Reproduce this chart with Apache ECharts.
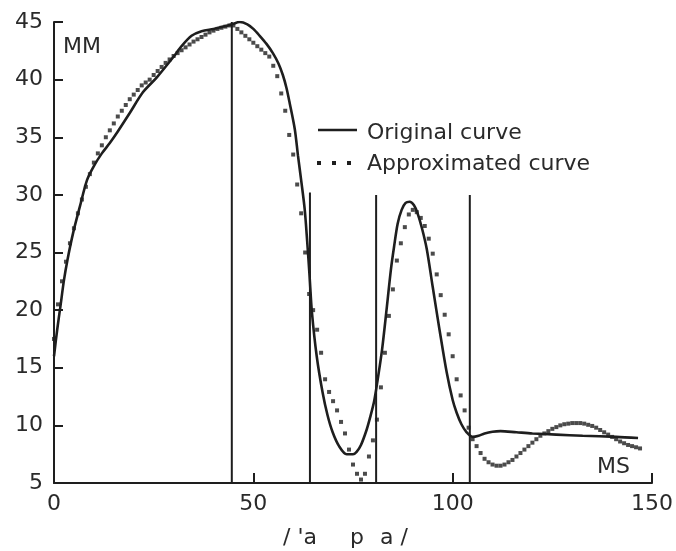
<!DOCTYPE html>
<html>
<head>
<meta charset="utf-8">
<script src="https://cdn.jsdelivr.net/npm/echarts@6/dist/echarts.min.js"></script>
<style>
  html, body { margin: 0; padding: 0; background: #fff; }
  #chart { width: 676px; height: 551px; }
</style>
</head>
<body>
<div id="chart"></div>
<script>
// original curve (solid)
const origX = [0, 0.8, 1.6, 2.5, 3.4, 4.8, 6.5, 8.3, 10, 12, 14, 16, 19, 22.3, 25.8, 29.8, 32, 34.5, 37, 40,
  42.5, 44.6, 46.6, 48.5, 50, 51.6, 53.3, 54.9, 56.3, 57.4, 58.3, 59.1, 60.4, 61.2, 62.1, 62.9, 63.5, 64.1, 64.7, 65.9,
  67.4, 68.6, 69.9, 71.5, 73.4, 75, 75.9, 77, 78.4, 79.3, 80.3, 81.2, 82.3, 83.5, 84.5, 85.3, 86.2, 87.2, 88.2, 89.2,
  90.3, 91.2, 92.3, 93.5, 95, 96.7, 98.5, 100, 101, 102.2, 103.5, 105, 106.5, 108, 110, 112, 116, 120, 126, 132.6,
  141, 146.5];
const origY = [16, 18.3, 20.3, 22.6, 24.4, 26.7, 29.0, 31.3, 32.5, 33.6, 34.5, 35.5, 37.1, 38.9, 40.2, 41.9, 42.9, 43.8, 44.2, 44.4,
  44.6, 44.8, 45.0, 44.8, 44.4, 43.8, 43.1, 42.3, 41.4, 40.4, 39.3, 38.0, 35.7, 33.4, 31.0, 28.7, 26.0, 23.0, 19.8, 16.0,
  12.8, 10.9, 9.4, 8.2, 7.5, 7.5, 7.7, 8.3, 9.6, 10.7, 12.1, 14.0, 16.6, 20.3, 23.5, 25.5, 27.5, 28.7, 29.3, 29.4,
  29.1, 28.4, 27.1, 25.3, 22.0, 18.3, 14.6, 12.2, 11.1, 10.1, 9.4, 9.0, 9.1, 9.3, 9.45, 9.5, 9.4, 9.3, 9.2, 9.1,
  9.0, 8.9];

// approximated curve: one dot per unit of x, starting at x = 0
const approxY = [
  17.5, 20.5, 22.5, 24.2, 25.8, 27.1, 28.4, 29.6, 30.7, 31.8,
  32.8, 33.6, 34.3, 35.0, 35.6, 36.2, 36.8, 37.3, 37.8, 38.3,
  38.7, 39.1, 39.5, 39.75, 40.0, 40.4, 40.75, 41.1, 41.45, 41.75,
  42.05, 42.3, 42.55, 42.8, 43.05, 43.3, 43.5, 43.7, 43.9, 44.1,
  44.25, 44.4, 44.5, 44.6, 44.7, 44.7, 44.4, 44.1, 43.8, 43.5,
  43.2, 42.9, 42.6, 42.3, 42.0, 41.2, 40.3, 38.8, 37.3, 35.2,
  33.5, 30.9, 28.4, 25.0, 21.4, 20.0, 18.3, 16.3, 14.0, 12.9,
  12.1, 11.3, 10.3, 9.3, 7.9, 6.6, 5.8, 5.3, 5.8, 7.3,
  8.7, 10.5, 13.3, 16.3, 19.5, 21.8, 24.3, 25.8, 27.2, 28.3,
  28.7, 28.5, 28.0, 27.3, 26.2, 24.9, 23.1, 21.3, 19.6, 17.9,
  16.0, 14.0, 12.6, 11.3, 9.8, 8.8, 8.2, 7.6, 7.1, 6.8,
  6.6, 6.5, 6.5, 6.6, 6.8, 7.0, 7.3, 7.6, 7.9, 8.2,
  8.5, 8.8, 9.1, 9.3, 9.5, 9.7, 9.85, 10.0, 10.1, 10.15,
  10.2, 10.2, 10.2, 10.15, 10.05, 9.95, 9.8, 9.6, 9.4, 9.2,
  9.0, 8.8, 8.6, 8.45, 8.3, 8.2, 8.1, 8.0
];

// segment boundaries (vertical lines)
const boundX = [44.6, 64.2, 80.8, 104.3];
const boundTop = [45, 30.2, 30, 30];

const xTicks = [0, 50, 100, 150];
const yMin = 5, yMax = 45;

const FONT = '"DejaVu Sans", sans-serif';
const INK = '#1e1e1e';
const TXT = '#2a2a2a';

const chart = echarts.init(document.getElementById('chart'));

const boundSeries = boundX.map((x, i) => ({
  type: 'line',
  silent: true,
  symbol: 'none',
  data: [[x, yMin], [x, boundTop[i]]],
  lineStyle: { color: INK, width: 2 },
  z: 1
}));

chart.setOption({
  animation: false,
  grid: { left: 54, right: 24, top: 22, bottom: 68 },
  xAxis: {
    type: 'value',
    min: xTicks[0],
    max: xTicks[xTicks.length - 1],
    interval: 50,
    axisLine: { lineStyle: { color: INK, width: 2 } },
    axisTick: { inside: true, length: 10, lineStyle: { color: INK, width: 2 } },
    axisLabel: { margin: 10, color: TXT, fontFamily: FONT, fontSize: 22 },
    splitLine: { show: false }
  },
  yAxis: {
    type: 'value',
    min: yMin,
    max: yMax,
    interval: 5,
    axisLine: { show: true, lineStyle: { color: INK, width: 2 } },
    axisTick: { show: true, inside: true, length: 9, lineStyle: { color: INK, width: 2 } },
    axisLabel: { margin: 11, color: TXT, fontFamily: FONT, fontSize: 22 },
    splitLine: { show: false }
  },
  series: [
    ...boundSeries,
    {
      name: 'Original curve',
      type: 'line',
      smooth: 0.3,
      symbol: 'none',
      data: origX.map((x, i) => [x, origY[i]]),
      lineStyle: { color: INK, width: 2.6 },
      z: 3
    },
    {
      name: 'Approximated curve',
      type: 'scatter',
      symbol: 'rect',
      symbolSize: 4,
      data: approxY.map((y, i) => [i, y]),
      itemStyle: { color: INK },
      z: 4
    }
  ],
  graphic: [
    { type: 'line', shape: { x1: 318, y1: 130, x2: 357, y2: 130 }, style: { stroke: INK, lineWidth: 2.6 } },
    { type: 'rect', shape: { x: 317, y: 161, width: 4, height: 4 }, style: { fill: INK } },
    { type: 'rect', shape: { x: 332, y: 161, width: 4, height: 4 }, style: { fill: INK } },
    { type: 'rect', shape: { x: 347, y: 161, width: 4, height: 4 }, style: { fill: INK } },
    { type: 'text', style: { text: 'Original curve', x: 367, y: 133, font: '22px ' + FONT, fill: TXT, textVerticalAlign: 'middle' } },
    { type: 'text', style: { text: 'Approximated curve', x: 367, y: 164, font: '22px ' + FONT, fill: TXT, textVerticalAlign: 'middle' } },
    { type: 'text', style: { text: 'MM', x: 63, y: 47, font: '22px ' + FONT, fill: TXT, textVerticalAlign: 'middle' } },
    { type: 'text', style: { text: 'MS', x: 597, y: 467, font: '22px ' + FONT, fill: TXT, textVerticalAlign: 'middle' } },
    { type: 'text', style: { text: "/ 'a", x: 283, y: 538, font: '22px ' + FONT, fill: TXT, textVerticalAlign: 'middle' } },
    { type: 'text', style: { text: 'p', x: 350, y: 538, font: '22px ' + FONT, fill: TXT, textVerticalAlign: 'middle' } },
    { type: 'text', style: { text: 'a /', x: 380, y: 538, font: '22px ' + FONT, fill: TXT, textVerticalAlign: 'middle' } }
  ]
});
</script>
</body>
</html>
